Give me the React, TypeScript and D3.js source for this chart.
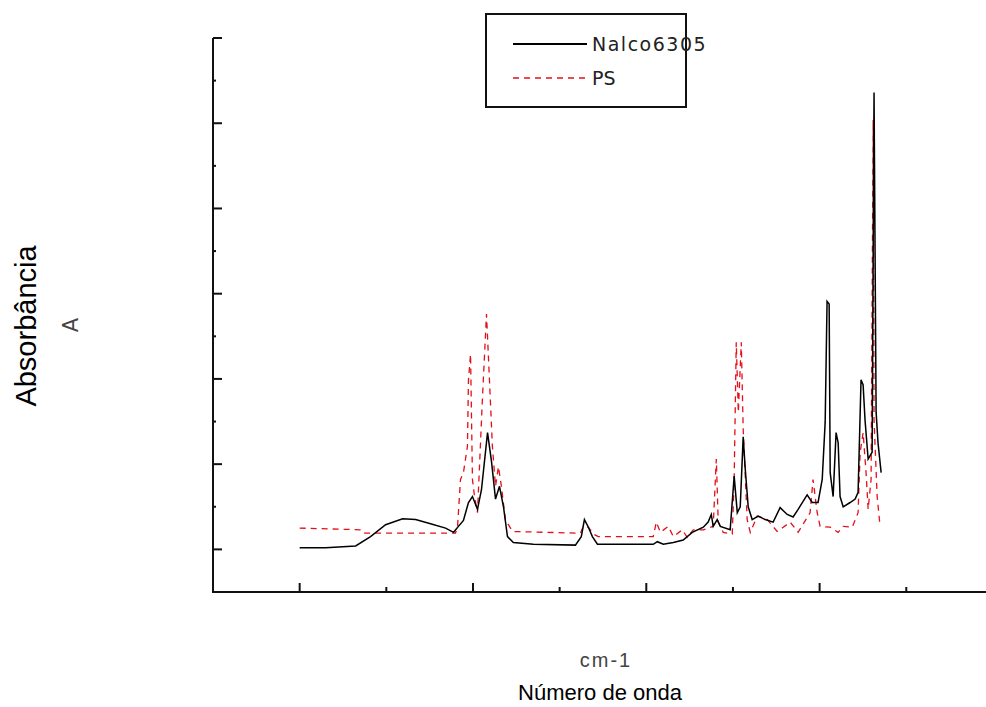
import { useRef, useEffect } from "react";
import * as d3 from "d3";

// wavenumber (cm-1) and absorbance
const nalcoWave = [4000, 3850, 3677, 3591, 3504, 3406, 3331, 3245, 3158, 3112, 3084, 3055, 3037, 3026, 3003, 2974, 2951, 2916, 2893, 2870, 2847, 2824, 2801, 2767, 2651, 2409, 2375, 2357, 2334, 2311, 2282, 1960, 1936, 1902, 1844, 1787, 1735, 1671, 1643, 1625, 1614, 1591, 1573, 1516, 1493, 1475, 1458, 1441, 1429, 1412, 1389, 1354, 1314, 1268, 1228, 1187, 1153, 1124, 1072, 1043, 1009, 985, 968, 957, 945, 939, 922, 905, 893, 882, 864, 824, 795, 778, 761, 749, 738, 720, 697, 686, 674, 663, 645];
const nalcoAbs = [0.002, 0.002, 0.004, 0.015, 0.029, 0.036, 0.035, 0.03, 0.025, 0.02, 0.027, 0.034, 0.047, 0.055, 0.062, 0.047, 0.07, 0.137, 0.103, 0.059, 0.074, 0.05, 0.015, 0.008, 0.006, 0.005, 0.015, 0.035, 0.026, 0.015, 0.006, 0.006, 0.009, 0.006, 0.008, 0.011, 0.02, 0.026, 0.032, 0.041, 0.027, 0.035, 0.027, 0.023, 0.086, 0.043, 0.05, 0.132, 0.094, 0.05, 0.035, 0.039, 0.035, 0.032, 0.049, 0.041, 0.038, 0.047, 0.064, 0.055, 0.055, 0.082, 0.149, 0.291, 0.288, 0.09, 0.062, 0.137, 0.125, 0.062, 0.05, 0.055, 0.059, 0.067, 0.199, 0.193, 0.152, 0.106, 0.114, 0.536, 0.161, 0.125, 0.09];

const psWave = [4000, 3648, 3631, 3101, 3089, 3072, 3055, 3032, 3026, 3014, 3003, 2991, 2974, 2945, 2922, 2905, 2888, 2870, 2853, 2836, 2813, 2772, 2380, 2363, 2334, 2305, 2277, 1960, 1942, 1919, 1873, 1844, 1792, 1764, 1729, 1671, 1614, 1596, 1585, 1556, 1504, 1493, 1481, 1469, 1452, 1441, 1418, 1400, 1360, 1302, 1245, 1210, 1170, 1124, 1055, 1038, 1014, 997, 939, 893, 864, 812, 778, 766, 749, 732, 720, 703, 691, 686, 668, 651];
const psAbs = [0.025, 0.023, 0.019, 0.019, 0.027, 0.082, 0.09, 0.121, 0.199, 0.229, 0.082, 0.062, 0.043, 0.179, 0.276, 0.199, 0.121, 0.074, 0.097, 0.074, 0.035, 0.021, 0.019, 0.027, 0.026, 0.018, 0.015, 0.015, 0.032, 0.02, 0.027, 0.015, 0.023, 0.014, 0.023, 0.023, 0.027, 0.106, 0.032, 0.02, 0.018, 0.082, 0.243, 0.161, 0.243, 0.141, 0.035, 0.02, 0.039, 0.035, 0.021, 0.026, 0.032, 0.02, 0.043, 0.082, 0.043, 0.027, 0.026, 0.02, 0.027, 0.026, 0.043, 0.114, 0.137, 0.09, 0.047, 0.082, 0.504, 0.152, 0.062, 0.027];

const xMajor = [4000, 3000, 2000, 1000];
const xMinor = [3500, 2500, 1500, 500];
const yMajor = [0, 0.1, 0.2, 0.3, 0.4, 0.5, 0.6];
const yMinor = [0.05, 0.15, 0.25, 0.35, 0.45, 0.55];

const series = [
  { name: "Nalco6305", wave: nalcoWave, abs: nalcoAbs, color: "#000", dash: null, width: 1.5 },
  { name: "PS", wave: psWave, abs: psAbs, color: "#e3101a", dash: "6,5", width: 1.3 },
];

const App = () => {
  const svgRef = useRef<SVGSVGElement>(null);

  useEffect(() => {
    const svg = d3.select(svgRef.current);
    svg.selectAll("*").remove();

    const width = 986;
    const height = 707;

    const x = d3.scaleLinear().domain([4500, 40]).range([213, 986]);
    const y = d3.scaleLinear().domain([-0.05, 0.6]).range([592, 38]);

    svg.append("rect").attr("width", width).attr("height", height).attr("fill", "#fff");

    // axes
    svg
      .append("line")
      .attr("x1", x(4500)).attr("x2", x(4500))
      .attr("y1", y(0.6)).attr("y2", y(-0.05))
      .attr("stroke", "#111").attr("stroke-width", 2);
    svg
      .append("line")
      .attr("x1", x(4500) - 1).attr("x2", width)
      .attr("y1", y(-0.05)).attr("y2", y(-0.05))
      .attr("stroke", "#111").attr("stroke-width", 2);

    const ticks = svg.append("g").attr("stroke", "#111").attr("stroke-width", 2);
    yMajor.forEach((v) => {
      ticks.append("line").attr("x1", x(4500)).attr("x2", x(4500) + 9).attr("y1", y(v)).attr("y2", y(v));
    });
    yMinor.forEach((v) => {
      ticks.append("line").attr("x1", x(4500)).attr("x2", x(4500) + 3).attr("y1", y(v)).attr("y2", y(v));
    });
    xMajor.forEach((v) => {
      ticks.append("line").attr("x1", x(v)).attr("x2", x(v)).attr("y1", y(-0.05)).attr("y2", y(-0.05) - 9);
    });
    xMinor.forEach((v) => {
      ticks.append("line").attr("x1", x(v)).attr("x2", x(v)).attr("y1", y(-0.05)).attr("y2", y(-0.05) - 5);
    });

    // spectra, PS first so the black trace sits on top
    series
      .slice()
      .reverse()
      .forEach((s) => {
        const pts: [number, number][] = s.wave.map((w, i) => [x(w), y(s.abs[i])]);
        svg
          .append("path")
          .attr("d", d3.line()(pts))
          .attr("fill", "none")
          .attr("stroke", s.color)
          .attr("stroke-width", s.width)
          .attr("stroke-dasharray", s.dash);
      });

    // legend
    const lg = svg.append("g");
    lg.append("rect")
      .attr("x", 486).attr("y", 14).attr("width", 200).attr("height", 93)
      .attr("fill", "#fff").attr("stroke", "#111").attr("stroke-width", 2);
    series.forEach((s, i) => {
      const ly = 44 + i * 34;
      lg.append("line")
        .attr("x1", 513).attr("x2", 587).attr("y1", ly).attr("y2", ly)
        .attr("stroke", s.color).attr("stroke-width", s.dash ? 1.3 : 2)
        .attr("stroke-dasharray", s.dash);
      lg.append("text")
        .attr("x", 592).attr("y", ly + 7)
        .attr("font-family", "'DejaVu Sans', sans-serif")
        .attr("font-size", 19)
        .attr("letter-spacing", i === 0 ? 1.5 : 0)
        .attr("fill", "#222")
        .text(s.name);
    });

    // titles
    svg.append("text")
      .attr("transform", "translate(36,326) rotate(-90)")
      .attr("text-anchor", "middle")
      .attr("font-family", "'Liberation Sans', Arial, sans-serif")
      .attr("font-size", 29)
      .attr("fill", "#000")
      .text("Absorbância");
    svg.append("text")
      .attr("transform", "translate(78,325) rotate(-90)")
      .attr("text-anchor", "middle")
      .attr("font-family", "'DejaVu Sans', sans-serif")
      .attr("font-size", 21)
      .attr("fill", "#444")
      .text("A");
    svg.append("text")
      .attr("x", 606).attr("y", 667)
      .attr("text-anchor", "middle")
      .attr("font-family", "'Liberation Sans', Arial, sans-serif")
      .attr("font-size", 20)
      .attr("letter-spacing", 2)
      .attr("fill", "#444")
      .text("cm-1");
    svg.append("text")
      .attr("x", 600).attr("y", 700)
      .attr("text-anchor", "middle")
      .attr("font-family", "'Liberation Sans', Arial, sans-serif")
      .attr("font-size", 22)
      .attr("fill", "#000")
      .text("Número de onda");
  }, []);

  return (
    <svg
      ref={svgRef}
      width={986}
      height={707}
      style={{ position: "absolute", left: 0, top: 0, display: "block" }}
    />
  );
};

export default App;
